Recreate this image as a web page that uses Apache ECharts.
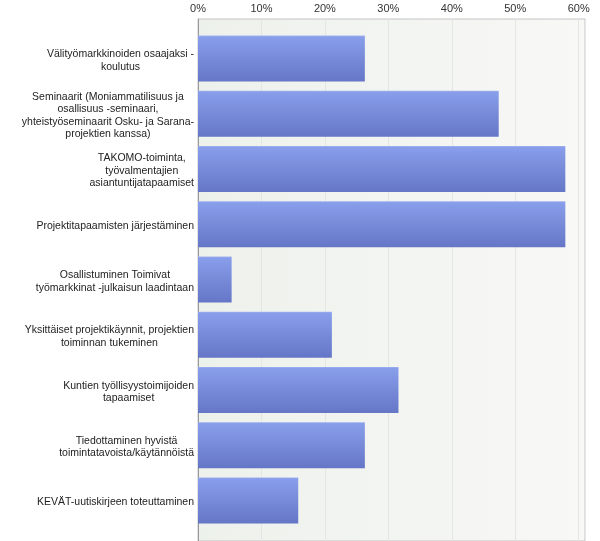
<!DOCTYPE html>
<html>
<head>
<meta charset="utf-8">
<script src="https://cdn.jsdelivr.net/npm/echarts@6/dist/echarts.min.js"></script>
<style>html,body{margin:0;padding:0;background:#fff}#c{width:600px;height:541px}</style>
</head>
<body>
<div id="c"></div>
<script>
var categories = [
  "Välityömarkkinoiden osaajaksi -\nkoulutus",
  "Seminaarit (Moniammatilisuus ja\nosallisuus -seminaari,\nyhteistyöseminaarit Osku- ja Sarana-\nprojektien kanssa)",
  "TAKOMO-toiminta,\ntyövalmentajien\nasiantuntijatapaamiset",
  "Projektitapaamisten järjestäminen",
  "Osallistuminen Toimivat\ntyömarkkinat -julkaisun laadintaan",
  "Yksittäiset projektikäynnit, projektien\ntoiminnan tukeminen",
  "Kuntien työllisyystoimijoiden\ntapaamiset",
  "Tiedottaminen hyvistä\ntoimintatavoista/käytännöistä",
  "KEVÄT-uutiskirjeen toteuttaminen"
];
var values = [26.3, 47.4, 57.9, 57.9, 5.3, 21.1, 31.6, 26.3, 15.8];
var tickLabels = ["0%", "10%", "20%", "30%", "40%", "50%", "60%"];

var chart = echarts.init(document.getElementById('c'), null, {renderer: 'canvas'});
var FONT = 'Liberation Sans, Arial, sans-serif';
var L = 198, R = 15;
chart.setOption({
  animation: false,
  grid: [
    {left: L, right: R, top: 19, bottom: -3, show: true,
     backgroundColor: new echarts.graphic.LinearGradient(0, 0, 1, 0, [
       {offset: 0, color: '#edf1eb'}, {offset: 1, color: '#f8f8f7'}]),
     borderColor: '#c4c4c4', borderWidth: 1},
    {left: L, right: R, top: 31, height: 497}
  ],
  xAxis: [
    {gridIndex: 0, type: 'value', position: 'top', min: 0, max: 61, interval: 10,
     axisLine: {show: false}, axisTick: {show: false},
     splitLine: {show: true, lineStyle: {color: '#e4e6e2', width: 1}},
     axisLabel: {margin: 5, color: '#333', fontSize: 11, fontFamily: FONT,
       showMaxLabel: false,
       formatter: function (v) { var i = Math.round(v / 10); return tickLabels[i] || ''; }}},
    {gridIndex: 1, type: 'value', min: 0, max: 61, show: false}
  ],
  yAxis: [
    {gridIndex: 0, type: 'value', min: 0, max: 1,
     axisLine: {show: true, lineStyle: {color: '#999', width: 1}},
     axisTick: {show: false}, axisLabel: {show: false}, splitLine: {show: false}},
    {gridIndex: 1, type: 'category', inverse: true, data: categories,
     axisLine: {show: false}, axisTick: {show: false},
     axisLabel: {margin: 4, color: '#222', fontSize: 10.5, fontFamily: FONT, lineHeight: 12.5,
       padding: [4, 0, 0, 0],
       formatter: function (v) {
         return v.split('\n').map(function (s) { return '{c|' + s + '}'; }).join('\n');
       },
       rich: {c: {align: 'center', fontSize: 10.5, fontFamily: FONT, lineHeight: 12.5, color: '#222'}}}}
  ],
  series: [{
    type: 'bar', xAxisIndex: 1, yAxisIndex: 1, data: values, barWidth: 46,
    itemStyle: {color: new echarts.graphic.LinearGradient(0, 0, 0, 1, [
      {offset: 0, color: '#a3b2ef'}, {offset: 0.03, color: '#889eeb'},
      {offset: 1, color: '#6576c6'}])}
  }]
});
</script>
</body>
</html>
